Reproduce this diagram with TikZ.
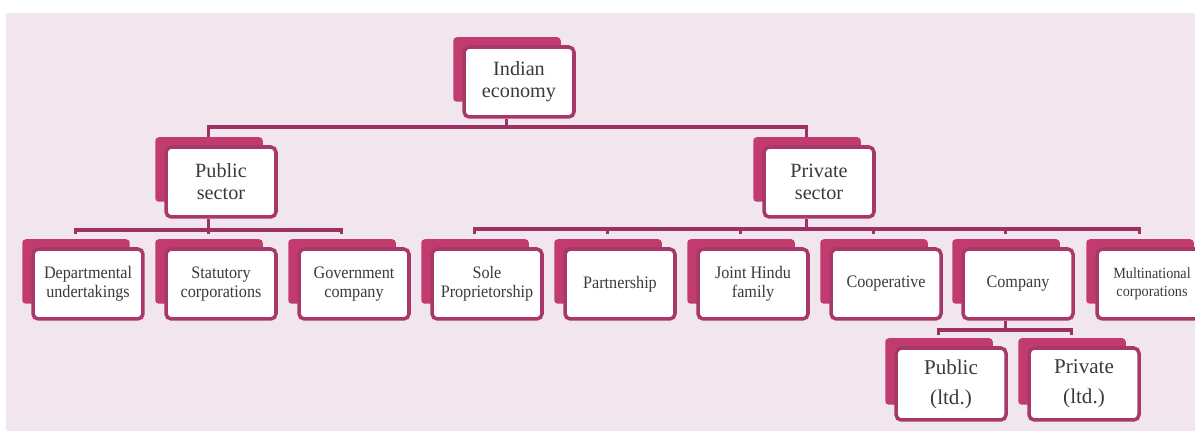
\documentclass[tikz,border=0pt]{standalone}
\usepackage{fontspec}
\setmainfont{Liberation Serif}
\newfontfamily\leaffont[FakeStretch=0.92]{Liberation Serif}
\usetikzlibrary{backgrounds}
\definecolor{pagebg}{HTML}{F1E5EE}
\definecolor{boxback}{HTML}{C23B6E}
\definecolor{boxline}{HTML}{A9386A}
\definecolor{linkcol}{HTML}{9C3263}
\definecolor{txt}{HTML}{3A3A3A}
\begin{document}
\begin{tikzpicture}[x=0.02cm, y=-0.02cm,
    card/.style={draw=boxline, line width=2pt, fill=white, rounded corners=3pt, minimum width=2.2cm, minimum height=1.4cm, align=center, text=txt, inner sep=1pt},
    headcard/.style={card, font=\fontsize{11.5}{12.5}\selectfont},
    leafcard/.style={card, font=\leaffont\fontsize{10}{11}\selectfont},
    ltdcard/.style={card, minimum height=1.44cm, font=\fontsize{12}{17}\selectfont},
    link/.style={draw=linkcol, line width=2.2pt},
  ]
  \useasboundingbox (0,0) rectangle (1195,431);
  \node[headcard] (ie) at (519,82) {Indian\\economy};
  \node[headcard] (ps) at (221,182) {Public\\sector};
  \node[headcard] (pv) at (819,182) {Private\\sector};
  \node[leafcard] (dep) at (88,284) {Departmental\\undertakings};
  \node[leafcard] (stat) at (221,284) {Statutory\\corporations};
  \node[leafcard] (gov) at (354,284) {Government\\company};
  \node[leafcard] (sole) at (487,284) {Sole\\Proprietorship};
  \node[leafcard] (part) at (620,284) {Partnership};
  \node[leafcard] (jhf) at (753,284) {Joint Hindu\\family};
  \node[leafcard] (coop) at (886,284) {Cooperative};
  \node[leafcard] (comp) at (1018,284) {Company};
  \node[leafcard, font=\leaffont\fontsize{8.8}{10.5}\selectfont] (mnc) at (1152,284) {Multinational\\corporations};
  \node[ltdcard] (publtd) at (951,384) {Public\\(ltd.)};
  \node[ltdcard] (privltd) at (1084,384) {Private\\(ltd.)};
  % shadow cards and page
  \begin{scope}[on background layer]
    \fill[white] (0,0) rectangle (1195,431);
    \fill[pagebg] (6,13) rectangle (1195,431);
    \foreach \n in {ie,ps,pv,dep,stat,gov,sole,part,jhf,coop,comp,mnc,publtd,privltd}
      \fill[boxback, rounded corners=2pt] ([shift={(-9,-8)}]\n.north west) rectangle ([shift={(-15,-17)}]\n.south east);
  \end{scope}
  % connectors
  \draw[link] ([xshift=-0.25cm]ie.south) -- ++(0,8) coordinate (iebar);
  \draw[link] ([xshift=-0.25cm,yshift=0.16cm]ps.north) |- (iebar) -| ([xshift=-0.25cm,yshift=0.16cm]pv.north);
  \draw[link] ([xshift=-0.25cm]ps.south) -- ++(0,11) coordinate (psbar);
  \draw[link] ([xshift=-0.25cm,yshift=0.26cm]dep.north) |- (psbar) -| ([xshift=-0.25cm,yshift=0.26cm]gov.north);
  \draw[link] ([xshift=-0.25cm,yshift=0.26cm]stat.north) |- (psbar);
  \draw[link] ([xshift=-0.25cm]pv.south) -- ++(0,10) coordinate (pvbar);
  \draw[link] ([xshift=-0.25cm,yshift=0.26cm]sole.north) |- (pvbar) -| ([xshift=-0.25cm,yshift=0.26cm]mnc.north);
  \foreach \n in {part,jhf,coop,comp}
    \draw[link] ([xshift=-0.25cm,yshift=0.26cm]\n.north) |- (pvbar);
  \draw[link] ([xshift=-0.25cm]comp.south) -- ++(0,9) coordinate (compbar);
  \draw[link] ([xshift=-0.25cm,yshift=0.22cm]publtd.north) |- (compbar) -| ([xshift=-0.25cm,yshift=0.22cm]privltd.north);
\end{tikzpicture}
\end{document}
